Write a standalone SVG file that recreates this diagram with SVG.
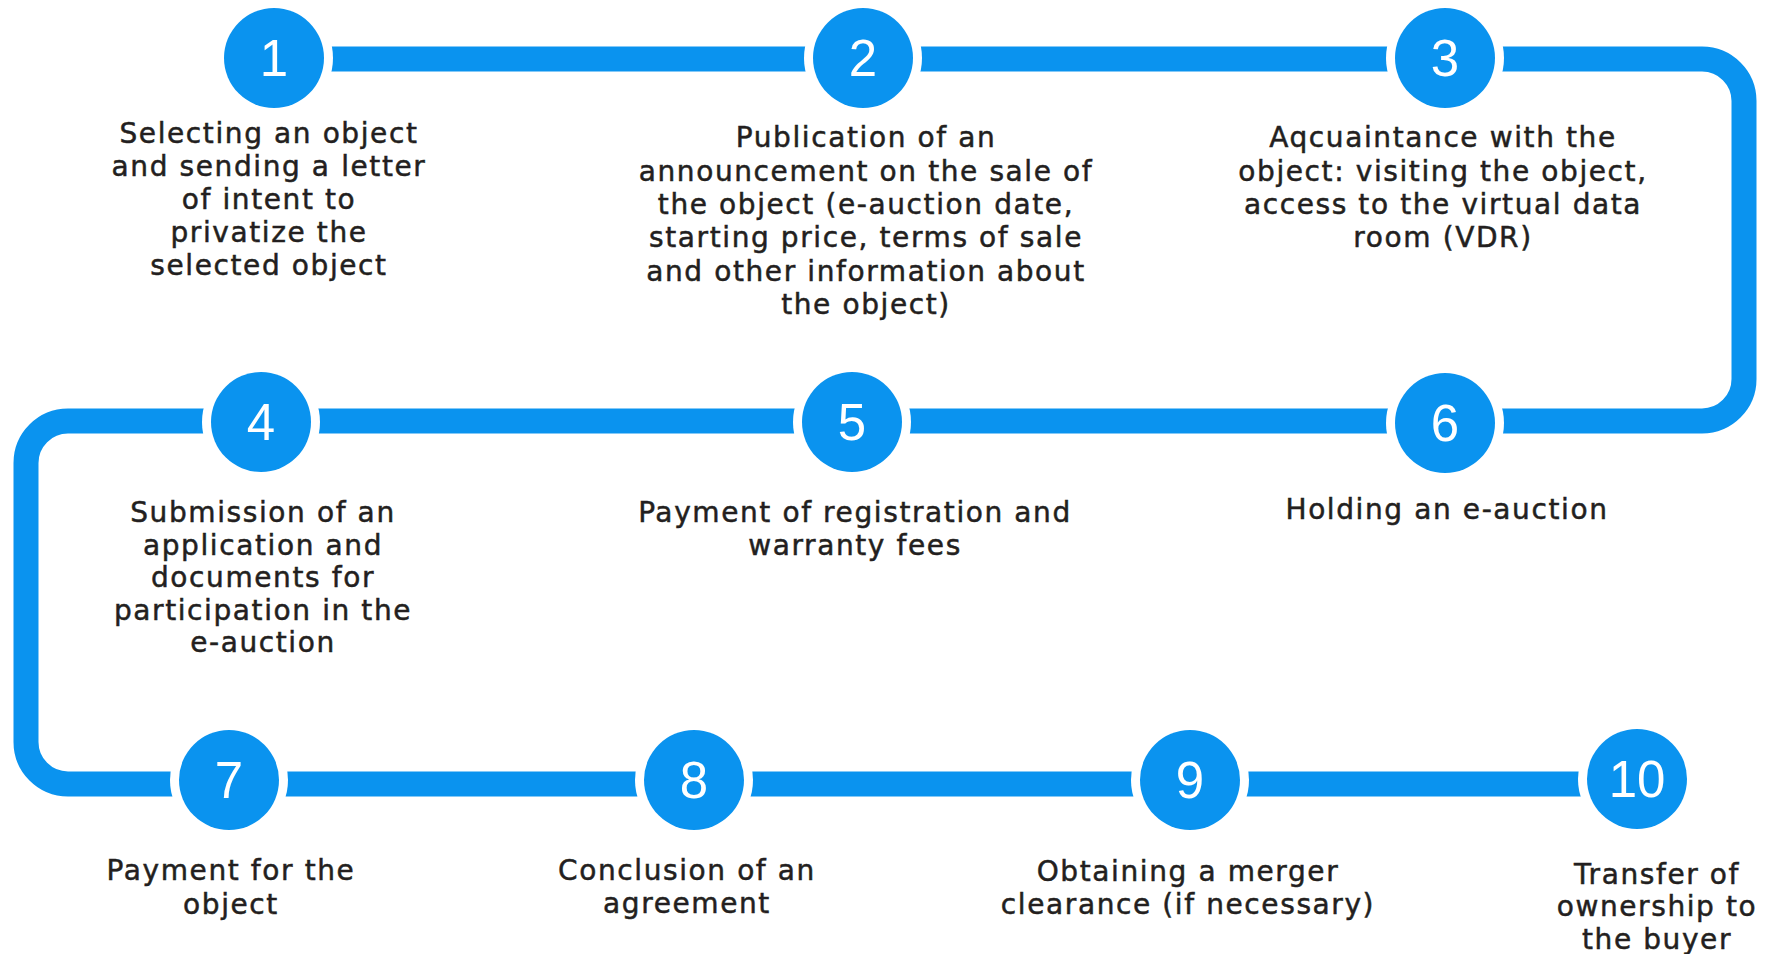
<svg xmlns="http://www.w3.org/2000/svg" width="1773" height="954" viewBox="0 0 1773 954">
<style>
.bg{fill:#ffffff}
.conn{fill:none;stroke:#0A93EF;stroke-width:25}
.ring{fill:#ffffff}
.dot{fill:#0A93EF}
.num{fill:#ffffff;font-family:"Liberation Sans",Arial,sans-serif;font-size:51px;text-anchor:middle}
.lbl{fill:#231F20;stroke:#231F20;stroke-width:0.5;font-family:"DejaVu Sans","Liberation Sans",sans-serif;font-size:28px;letter-spacing:1.6px;text-anchor:middle}
</style>
<rect class="bg" x="0" y="0" width="1773" height="954"/>
<g id="connectors">
<path class="conn" d="M274,59 H1702 A42,42 0 0 1 1744,101 V379 A42,42 0 0 1 1702,421 H68 A42,42 0 0 0 26,463 V742 A42,42 0 0 0 68,784 H1637"/>
</g>
<g id="n1">
<circle class="ring" cx="274" cy="58" r="59"/><circle class="dot" cx="274" cy="58" r="50"/>
<text class="num" x="274" y="76">1</text>
<text class="lbl" x="269" y="143">Selecting an object</text>
<text class="lbl" x="269" y="176">and sending a letter</text>
<text class="lbl" x="269" y="209">of intent to</text>
<text class="lbl" x="269" y="242">privatize the</text>
<text class="lbl" x="269" y="275">selected object</text>
</g>
<g id="n2">
<circle class="ring" cx="863" cy="58" r="59"/><circle class="dot" cx="863" cy="58" r="50"/>
<text class="num" x="863" y="76">2</text>
<text class="lbl" x="866" y="147">Publication of an</text>
<text class="lbl" x="866" y="180.5">announcement on the sale of</text>
<text class="lbl" x="866" y="214">the object (e-auction date,</text>
<text class="lbl" x="866" y="247">starting price, terms of sale</text>
<text class="lbl" x="866" y="280.5">and other information about</text>
<text class="lbl" x="866" y="314">the object)</text>
</g>
<g id="n3">
<circle class="ring" cx="1445" cy="58" r="59"/><circle class="dot" cx="1445" cy="58" r="50"/>
<text class="num" x="1445" y="76">3</text>
<text class="lbl" x="1443" y="147">Aqcuaintance with the</text>
<text class="lbl" x="1443" y="180.5">object: visiting the object,</text>
<text class="lbl" x="1443" y="214">access to the virtual data</text>
<text class="lbl" x="1443" y="247">room (VDR)</text>
</g>
<g id="n4">
<circle class="ring" cx="261" cy="422" r="59"/><circle class="dot" cx="261" cy="422" r="50"/>
<text class="num" x="261" y="440">4</text>
<text class="lbl" x="263" y="522">Submission of an</text>
<text class="lbl" x="263" y="554.5">application and</text>
<text class="lbl" x="263" y="587">documents for</text>
<text class="lbl" x="263" y="619.5">participation in the</text>
<text class="lbl" x="263" y="652">e-auction</text>
</g>
<g id="n5">
<circle class="ring" cx="852" cy="422" r="59"/><circle class="dot" cx="852" cy="422" r="50"/>
<text class="num" x="852" y="440">5</text>
<text class="lbl" x="855" y="522">Payment of registration and</text>
<text class="lbl" x="855" y="555">warranty fees</text>
</g>
<g id="n6">
<circle class="ring" cx="1445" cy="423" r="59"/><circle class="dot" cx="1445" cy="423" r="50"/>
<text class="num" x="1445" y="441">6</text>
<text class="lbl" x="1447" y="519">Holding an e-auction</text>
</g>
<g id="n7">
<circle class="ring" cx="229" cy="780" r="59"/><circle class="dot" cx="229" cy="780" r="50"/>
<text class="num" x="229" y="798">7</text>
<text class="lbl" x="231" y="880">Payment for the</text>
<text class="lbl" x="231" y="914">object</text>
</g>
<g id="n8">
<circle class="ring" cx="694" cy="780" r="59"/><circle class="dot" cx="694" cy="780" r="50"/>
<text class="num" x="694" y="798">8</text>
<text class="lbl" x="687" y="880">Conclusion of an</text>
<text class="lbl" x="687" y="913">agreement</text>
</g>
<g id="n9">
<circle class="ring" cx="1190" cy="780" r="59"/><circle class="dot" cx="1190" cy="780" r="50"/>
<text class="num" x="1190" y="798">9</text>
<text class="lbl" x="1188" y="881">Obtaining a merger</text>
<text class="lbl" x="1188" y="914">clearance (if necessary)</text>
</g>
<g id="n10">
<circle class="ring" cx="1637" cy="779" r="59"/><circle class="dot" cx="1637" cy="779" r="50"/>
<text class="num" x="1637" y="797">10</text>
<text class="lbl" x="1657" y="884">Transfer of</text>
<text class="lbl" x="1657" y="916">ownership to</text>
<text class="lbl" x="1657" y="949">the buyer</text>
</g>
</svg>
